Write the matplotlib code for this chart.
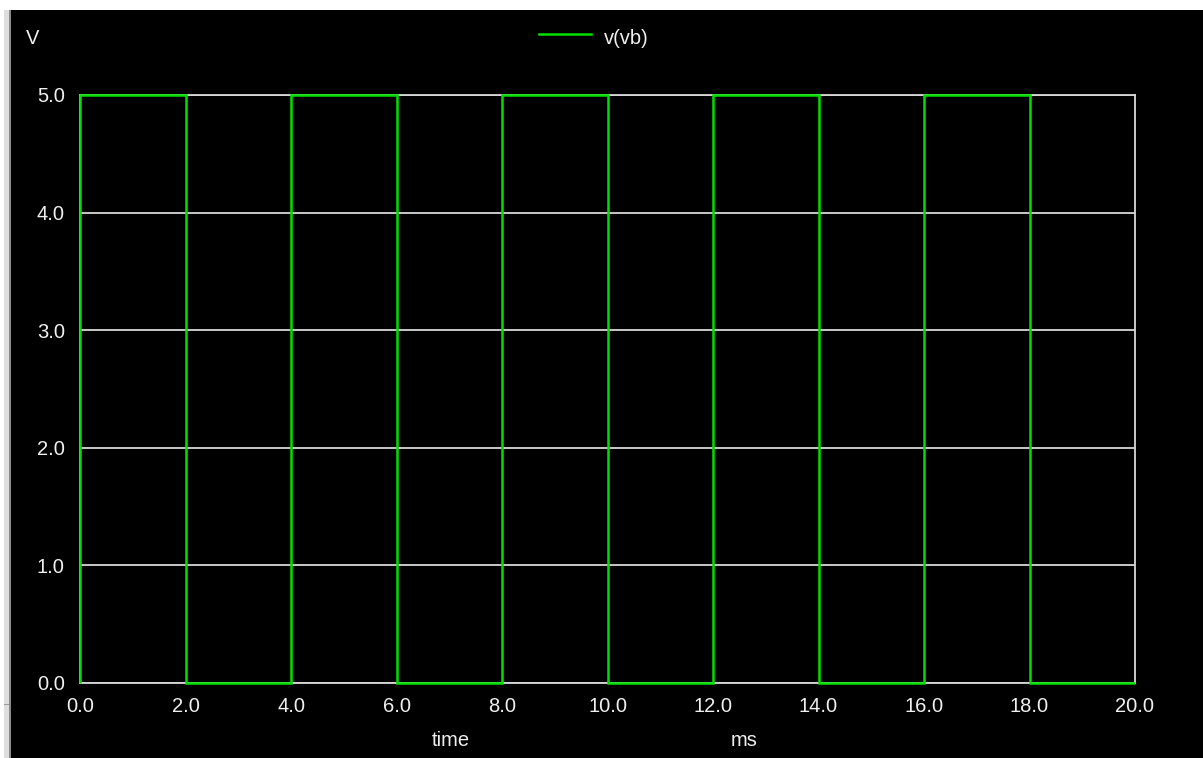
import matplotlib
matplotlib.use("Agg")
import matplotlib.pyplot as plt
from matplotlib.patches import Rectangle

# transient result v(vb): square wave, edges in ms, level in V
edges_ms = [0.0, 2.0, 4.0, 6.0, 8.0, 10.0, 12.0, 14.0, 16.0, 18.0, 20.0]
levels_v = [5.0, 0.0, 5.0, 0.0, 5.0, 0.0, 5.0, 0.0, 5.0, 0.0]
x_ticks = [0.0, 2.0, 4.0, 6.0, 8.0, 10.0, 12.0, 14.0, 16.0, 18.0, 20.0]
y_ticks = [0.0, 1.0, 2.0, 3.0, 4.0, 5.0]

W, H = 1203, 758
TRACE = "#00e000"
GRID = "#d8d8d8"
TEXT = "#f0f0f0"
FONT = "Liberation Sans"
FS = 14.5

fig = plt.figure(figsize=(W / 100, H / 100), dpi=100, facecolor="black")

# window chrome: white strip on top, grey border on the left
fig.patches.append(Rectangle((0, 1 - 10 / H), 1, 10 / H, transform=fig.transFigure,
                             facecolor="white", edgecolor="none"))
fig.patches.append(Rectangle((0, 0), 4 / W, 1 - 10 / H, transform=fig.transFigure,
                             facecolor="white", edgecolor="none"))
fig.patches.append(Rectangle((4 / W, 0), 5 / W, 1 - 10 / H, transform=fig.transFigure,
                             facecolor="#dedede", edgecolor="none"))
fig.patches.append(Rectangle((9 / W, 0), 2 / W, 1 - 10 / H, transform=fig.transFigure,
                             facecolor="#8a8a8a", edgecolor="none"))
fig.patches.append(Rectangle((4 / W, 1 - 705 / H), 5 / W, 1.5 / H, transform=fig.transFigure,
                             facecolor="#9a9a9a", edgecolor="none"))

left, right, top, bottom = 80, 1135, 95, 683
ax = fig.add_axes([left / W, 1 - bottom / H, (right - left) / W, (bottom - top) / H])
ax.set_facecolor("black")

ax.grid(True, axis="y", color=GRID, linewidth=1.3)
ax.set_axisbelow(True)
ax.stairs(levels_v, edges_ms, baseline=0.0, color=TRACE, linewidth=1.8,
          zorder=4, clip_on=False)

ax.set_xlim(0, 20)
ax.set_ylim(0, 5)
ax.set_xticks(x_ticks)
ax.set_yticks(y_ticks)
ax.set_xticklabels([f"{t:.1f}" for t in x_ticks])
ax.set_yticklabels([f"{v:.1f}" for v in y_ticks])
ax.tick_params(axis="x", length=0, pad=10, colors=TEXT, labelsize=FS)
ax.tick_params(axis="y", length=0, pad=11, colors=TEXT, labelsize=FS)
for lbl in ax.get_xticklabels() + ax.get_yticklabels():
    lbl.set_family(FONT)

for side in ["top", "right", "bottom", "left"]:
    ax.spines[side].set_color(GRID)
    ax.spines[side].set_linewidth(1.3)
    ax.spines[side].set_zorder(2)

# labels placed like the simulator draws them
fig.text(33 / W, 1 - 38 / H, "V", color=TEXT, fontsize=FS, family=FONT,
         ha="center", va="center")
fig.text(451 / W, 1 - 741 / H, "time", color=TEXT, fontsize=FS, family=FONT,
         ha="center", va="center")
fig.text(744 / W, 1 - 741 / H, "ms", color=TEXT, fontsize=FS, family=FONT,
         ha="center", va="center")

# legend entry
fig.add_artist(plt.Line2D([539 / W, 591 / W], [1 - 34 / H, 1 - 34 / H],
                          transform=fig.transFigure, color=TRACE, linewidth=1.8))
fig.text(604 / W, 1 - 38 / H, "v(vb)", color=TEXT, fontsize=FS, family=FONT,
         ha="left", va="center")

fig.savefig("out.png", dpi=100, facecolor=fig.get_facecolor())
